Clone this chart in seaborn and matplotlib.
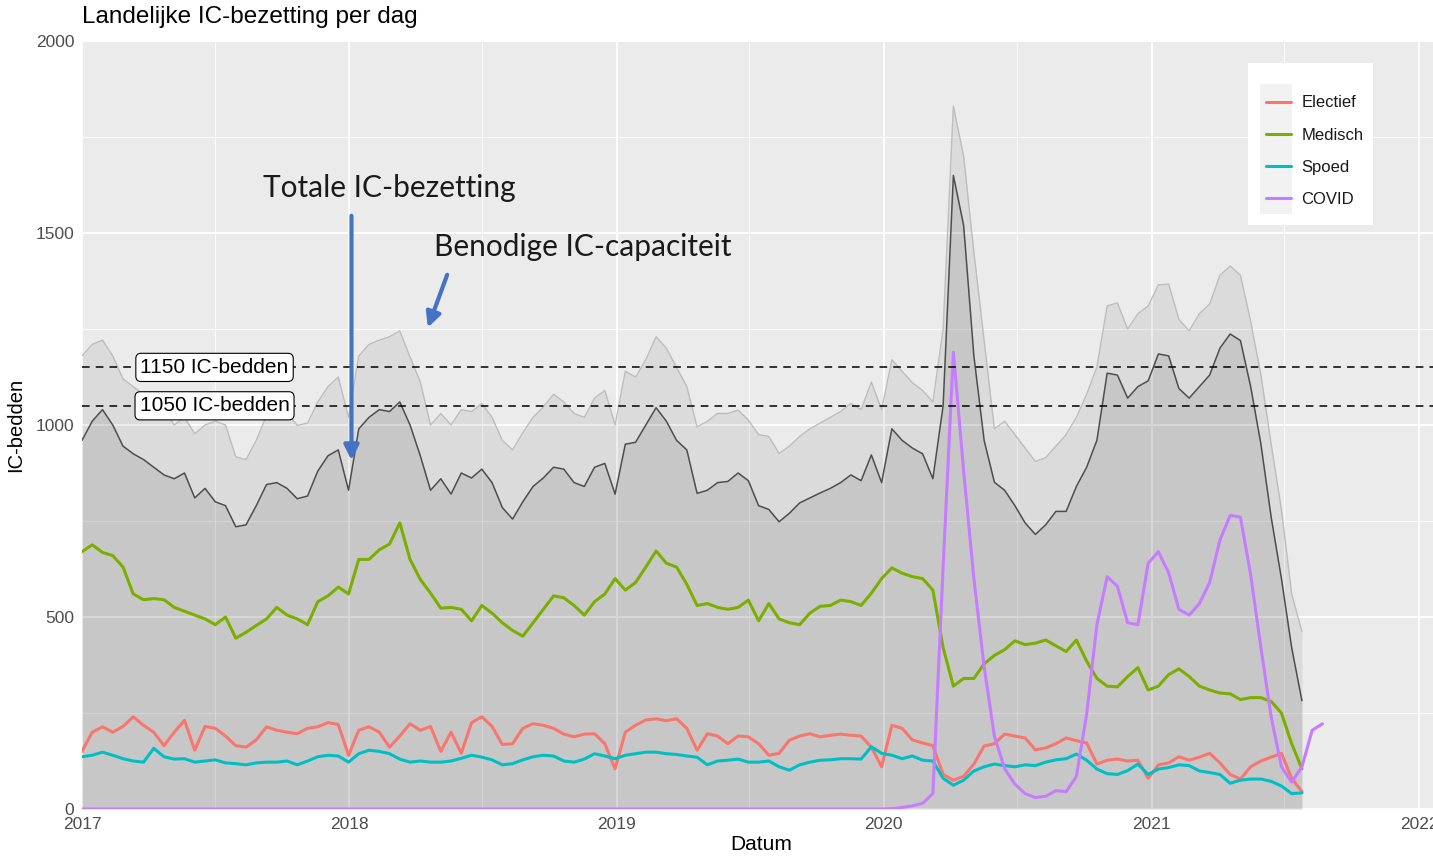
import numpy as np
import pandas as pd
import seaborn as sns
import matplotlib.pyplot as plt
import matplotlib.dates as mdates
from matplotlib.ticker import MultipleLocator
from matplotlib.patches import Rectangle

# values, one point every 14 days from 2017-01-01
totaal = [960, 1010, 1040, 1000, 945, 925, 910, 890, 870, 860,
          875, 810, 835, 800, 790, 735, 740, 790, 845, 850,
          835, 808, 815, 880, 920, 935, 830, 990, 1020, 1040,
          1035, 1060, 1000, 920, 830, 860, 820, 875, 862, 885,
          850, 785, 755, 800, 840, 862, 890, 885, 850, 840,
          890, 900, 820, 950, 955, 1000, 1045, 1010, 960, 935,
          822, 830, 850, 853, 875, 855, 790, 780, 748, 770,
          797, 810, 823, 835, 850, 870, 855, 922, 850, 990,
          960, 940, 925, 860, 1050, 1650, 1520, 1180, 960, 851,
          830, 790, 745, 715, 740, 775, 775, 840, 890, 960,
          1135, 1130, 1070, 1100, 1115, 1185, 1180, 1095, 1070, 1100,
          1130, 1200, 1237, 1220, 1100, 950, 760, 600, 420, 282]

benodigd = [1180, 1210, 1221, 1180, 1120, 1100, 1080, 1060, 1040, 1000,
            1020, 977, 1000, 1010, 1000, 917, 910, 960, 1025, 1050,
            1030, 999, 1005, 1060, 1100, 1125, 1020, 1180, 1210, 1221,
            1230, 1245, 1177, 1112, 1000, 1030, 1000, 1040, 1035, 1056,
            1020, 960, 935, 980, 1020, 1047, 1080, 1060, 1030, 1020,
            1070, 1090, 1000, 1140, 1125, 1170, 1230, 1200, 1150, 1100,
            995, 1010, 1030, 1030, 1039, 1013, 975, 970, 926, 945,
            970, 990, 1005, 1020, 1035, 1056, 1040, 1112, 1040, 1170,
            1140, 1110, 1090, 1060, 1250, 1830, 1700, 1450, 1220, 990,
            1010, 975, 940, 905, 915, 945, 975, 1020, 1080, 1151,
            1310, 1318, 1250, 1290, 1310, 1365, 1367, 1275, 1245, 1290,
            1315, 1390, 1414, 1390, 1270, 1130, 950, 780, 560, 462]

electief = [150, 200, 214, 200, 215, 240, 218, 200, 165, 200,
            231, 153, 215, 210, 190, 165, 161, 180, 214, 205,
            200, 196, 210, 214, 225, 220, 140, 205, 214, 200,
            161, 190, 222, 205, 215, 150, 200, 145, 225, 240,
            215, 168, 170, 210, 222, 218, 210, 195, 188, 195,
            196, 170, 105, 200, 218, 232, 235, 230, 235, 210,
            153, 196, 190, 170, 190, 188, 170, 140, 145, 179,
            190, 196, 188, 192, 195, 192, 190, 161, 110, 218,
            210, 180, 172, 165, 90, 75, 85, 117, 164, 170,
            195, 190, 185, 154, 159, 170, 185, 178, 172, 117,
            127, 130, 125, 127, 80, 115, 120, 136, 127, 135,
            145, 120, 90, 78, 110, 125, 135, 145, 80, 45]

medisch = [670, 688, 668, 660, 630, 560, 545, 548, 545, 525,
           515, 505, 495, 480, 500, 445, 460, 478, 495, 525,
           505, 495, 480, 540, 555, 578, 560, 650, 650, 675,
           690, 745, 650, 598, 562, 523, 525, 520, 490, 530,
           510, 485, 465, 450, 485, 520, 555, 550, 530, 505,
           540, 560, 600, 570, 590, 630, 672, 640, 630, 585,
           530, 535, 525, 520, 525, 544, 490, 535, 495, 485,
           480, 510, 528, 530, 544, 540, 530, 562, 600, 628,
           614, 605, 600, 570, 420, 320, 340, 340, 378, 400,
           415, 438, 428, 432, 440, 425, 410, 440, 385, 340,
           320, 318, 345, 368, 310, 320, 350, 365, 345, 320,
           310, 302, 300, 285, 290, 290, 280, 250, 170, 105]

spoed = [136, 140, 148, 140, 131, 125, 122, 158, 136, 130,
         131, 122, 125, 128, 120, 118, 115, 120, 122, 122,
         125, 115, 125, 136, 140, 138, 122, 144, 153, 150,
         144, 130, 122, 125, 122, 122, 125, 132, 140, 135,
         128, 115, 118, 128, 136, 140, 138, 125, 122, 130,
         144, 138, 131, 140, 144, 148, 148, 144, 142, 138,
         135, 115, 125, 127, 130, 122, 122, 125, 110, 101,
         115, 122, 127, 128, 131, 131, 130, 162, 145, 140,
         131, 138, 127, 125, 80, 62, 75, 99, 110, 117,
         113, 110, 115, 113, 122, 128, 131, 143, 127, 104,
         92, 90, 100, 117, 90, 104, 108, 115, 113, 99,
         95, 90, 67, 75, 78, 78, 72, 60, 40, 42]

# COVID: first value is 2017-01-01, the rest every 14 days from 2019-12-29
covid = [0,
         0, 1, 4, 8, 15, 40, 630, 1190, 880, 600,
         370, 190, 105, 65, 40, 30, 33, 48, 45, 85,
         247, 480, 605, 580, 485, 480, 640, 670, 615, 520,
         505, 535, 590, 700, 765, 760, 610, 420, 240, 110,
         70, 110, 205, 222]

categorieen = ["Electief", "Medisch", "Spoed", "COVID"]
kleuren = ["#F8766D", "#7CAE00", "#00BFC4", "#C77CFF"]
grenzen = [1150, 1050]
grens_labels = ["1150 IC-bedden", "1050 IC-bedden"]

datums = pd.date_range("2017-01-01", periods=len(totaal), freq="14D")
covid_datums = pd.DatetimeIndex(["2017-01-01"]).append(
    pd.date_range("2019-12-29", periods=len(covid) - 1, freq="14D"))

df = pd.concat([
    pd.DataFrame({"Datum": datums, "IC-bedden": electief, "type": "Electief"}),
    pd.DataFrame({"Datum": datums, "IC-bedden": medisch, "type": "Medisch"}),
    pd.DataFrame({"Datum": datums, "IC-bedden": spoed, "type": "Spoed"}),
    pd.DataFrame({"Datum": covid_datums, "IC-bedden": covid, "type": "COVID"}),
], ignore_index=True)

sns.set_theme(style="darkgrid", rc={"axes.facecolor": "#EBEBEB",
                                    "grid.color": "white",
                                    "figure.facecolor": "white"})
plt.rcParams["font.family"] = ["Liberation Sans", "DejaVu Sans"]

fig = plt.figure(figsize=(14.33, 8.57), dpi=100)
ax = fig.add_axes([82 / 1433, 48 / 857, 1351 / 1433, 768 / 857])

# grey areas: needed capacity and total occupancy
ax.fill_between(datums, benodigd, color="black", alpha=0.065, lw=0, zorder=1)
ax.plot(datums, benodigd, color="#BDBDBD", lw=1.0, zorder=1.5)
ax.fill_between(datums, totaal, color="black", alpha=0.09, lw=0, zorder=1)
ax.plot(datums, totaal, color="#4D4D4D", lw=1.1, zorder=2)

sns.lineplot(data=df, x="Datum", y="IC-bedden", hue="type",
             hue_order=categorieen, palette=kleuren, lw=2.2,
             errorbar=None, ax=ax, zorder=3)

for g, lab in zip(grenzen, grens_labels):
    ax.axhline(g, color="black", ls=(0, (5, 4)), lw=1.1, zorder=4)
    ax.text(pd.Timestamp("2017-07-01"), g, lab, ha="center", va="center",
            fontsize=15, color="black", zorder=6,
            bbox=dict(boxstyle="round,pad=0.22,rounding_size=0.25",
                      fc="white", ec="black", lw=0.8))

ax.set_xlim(pd.Timestamp("2017-01-01"), pd.Timestamp("2022-01-20"))
ax.set_ylim(0, 2000)
ax.xaxis.set_major_locator(mdates.YearLocator())
ax.xaxis.set_major_formatter(mdates.DateFormatter("%Y"))
ax.xaxis.set_minor_locator(mdates.MonthLocator(bymonth=7))
ax.yaxis.set_major_locator(MultipleLocator(500))
ax.yaxis.set_minor_locator(MultipleLocator(250))
ax.grid(which="major", color="white", lw=1.3)
ax.grid(which="minor", color="white", lw=0.6)
ax.set_axisbelow(True)
for s in ax.spines.values():
    s.set_visible(False)
ax.tick_params(which="major", length=3.5, width=1, color="#333333",
               labelcolor="#4D4D4D", labelsize=12.5, pad=2)
ax.tick_params(which="minor", length=0)

ax.set_xlabel("Datum", fontsize=15, color="black")
ax.set_ylabel("IC-bedden", fontsize=14.5, color="black")
ax.xaxis.set_label_coords(0.503, -0.034)
ax.yaxis.set_label_coords(-0.042, 0.5)

fig.text(82 / 1433, 1 - 17 / 857, "Landelijke IC-bezetting per dag",
         fontsize=17.5, ha="left", va="center", color="black")

# legend like ggplot: white box, grey key background
ax.add_patch(Rectangle((1248 / 1433, 1 - 225 / 857), 125 / 1433, 162 / 857,
                       transform=fig.transFigure, fc="white", ec="none", zorder=7))
ax.add_patch(Rectangle((1260 / 1433, 1 - 214 / 857), 32 / 1433, 130 / 857,
                       transform=fig.transFigure, fc="#F2F2F2", ec="none", zorder=7.5))
handles, labels = ax.get_legend_handles_labels()
leg = ax.legend(handles, labels, loc="upper left",
                bbox_to_anchor=(1258 / 1433, 1 - 87 / 857),
                bbox_transform=fig.transFigure, frameon=False, fontsize=12,
                borderpad=0, handlelength=1.45, handletextpad=0.65,
                labelspacing=1.03)
leg.set_zorder(8)
for t in leg.get_texts():
    t.set_color("#1A1A1A")

# blue arrows with notes
blauw = "#4472C4"
ax.text(pd.Timestamp("2018-02-25"), 1594, "Totale IC-bezetting", family="Lato",
        fontsize=21.5, ha="center", va="baseline", color="#1A1A1A", zorder=6)
ax.annotate("", xy=(pd.Timestamp("2018-01-04"), 901),
            xytext=(pd.Timestamp("2018-01-04"), 1552),
            arrowprops=dict(arrowstyle="-|>", color=blauw, lw=3,
                            mutation_scale=22), zorder=6)
ax.text(pd.Timestamp("2018-11-16"), 1440, "Benodige IC-capaciteit", family="Lato",
        fontsize=21.5, ha="center", va="baseline", color="#1A1A1A", zorder=6)
ax.annotate("", xy=(pd.Timestamp("2018-04-17"), 1247),
            xytext=(pd.Timestamp("2018-05-16"), 1398),
            arrowprops=dict(arrowstyle="-|>", color=blauw, lw=3,
                            mutation_scale=22), zorder=6)

fig.savefig("out.png", dpi=100)
